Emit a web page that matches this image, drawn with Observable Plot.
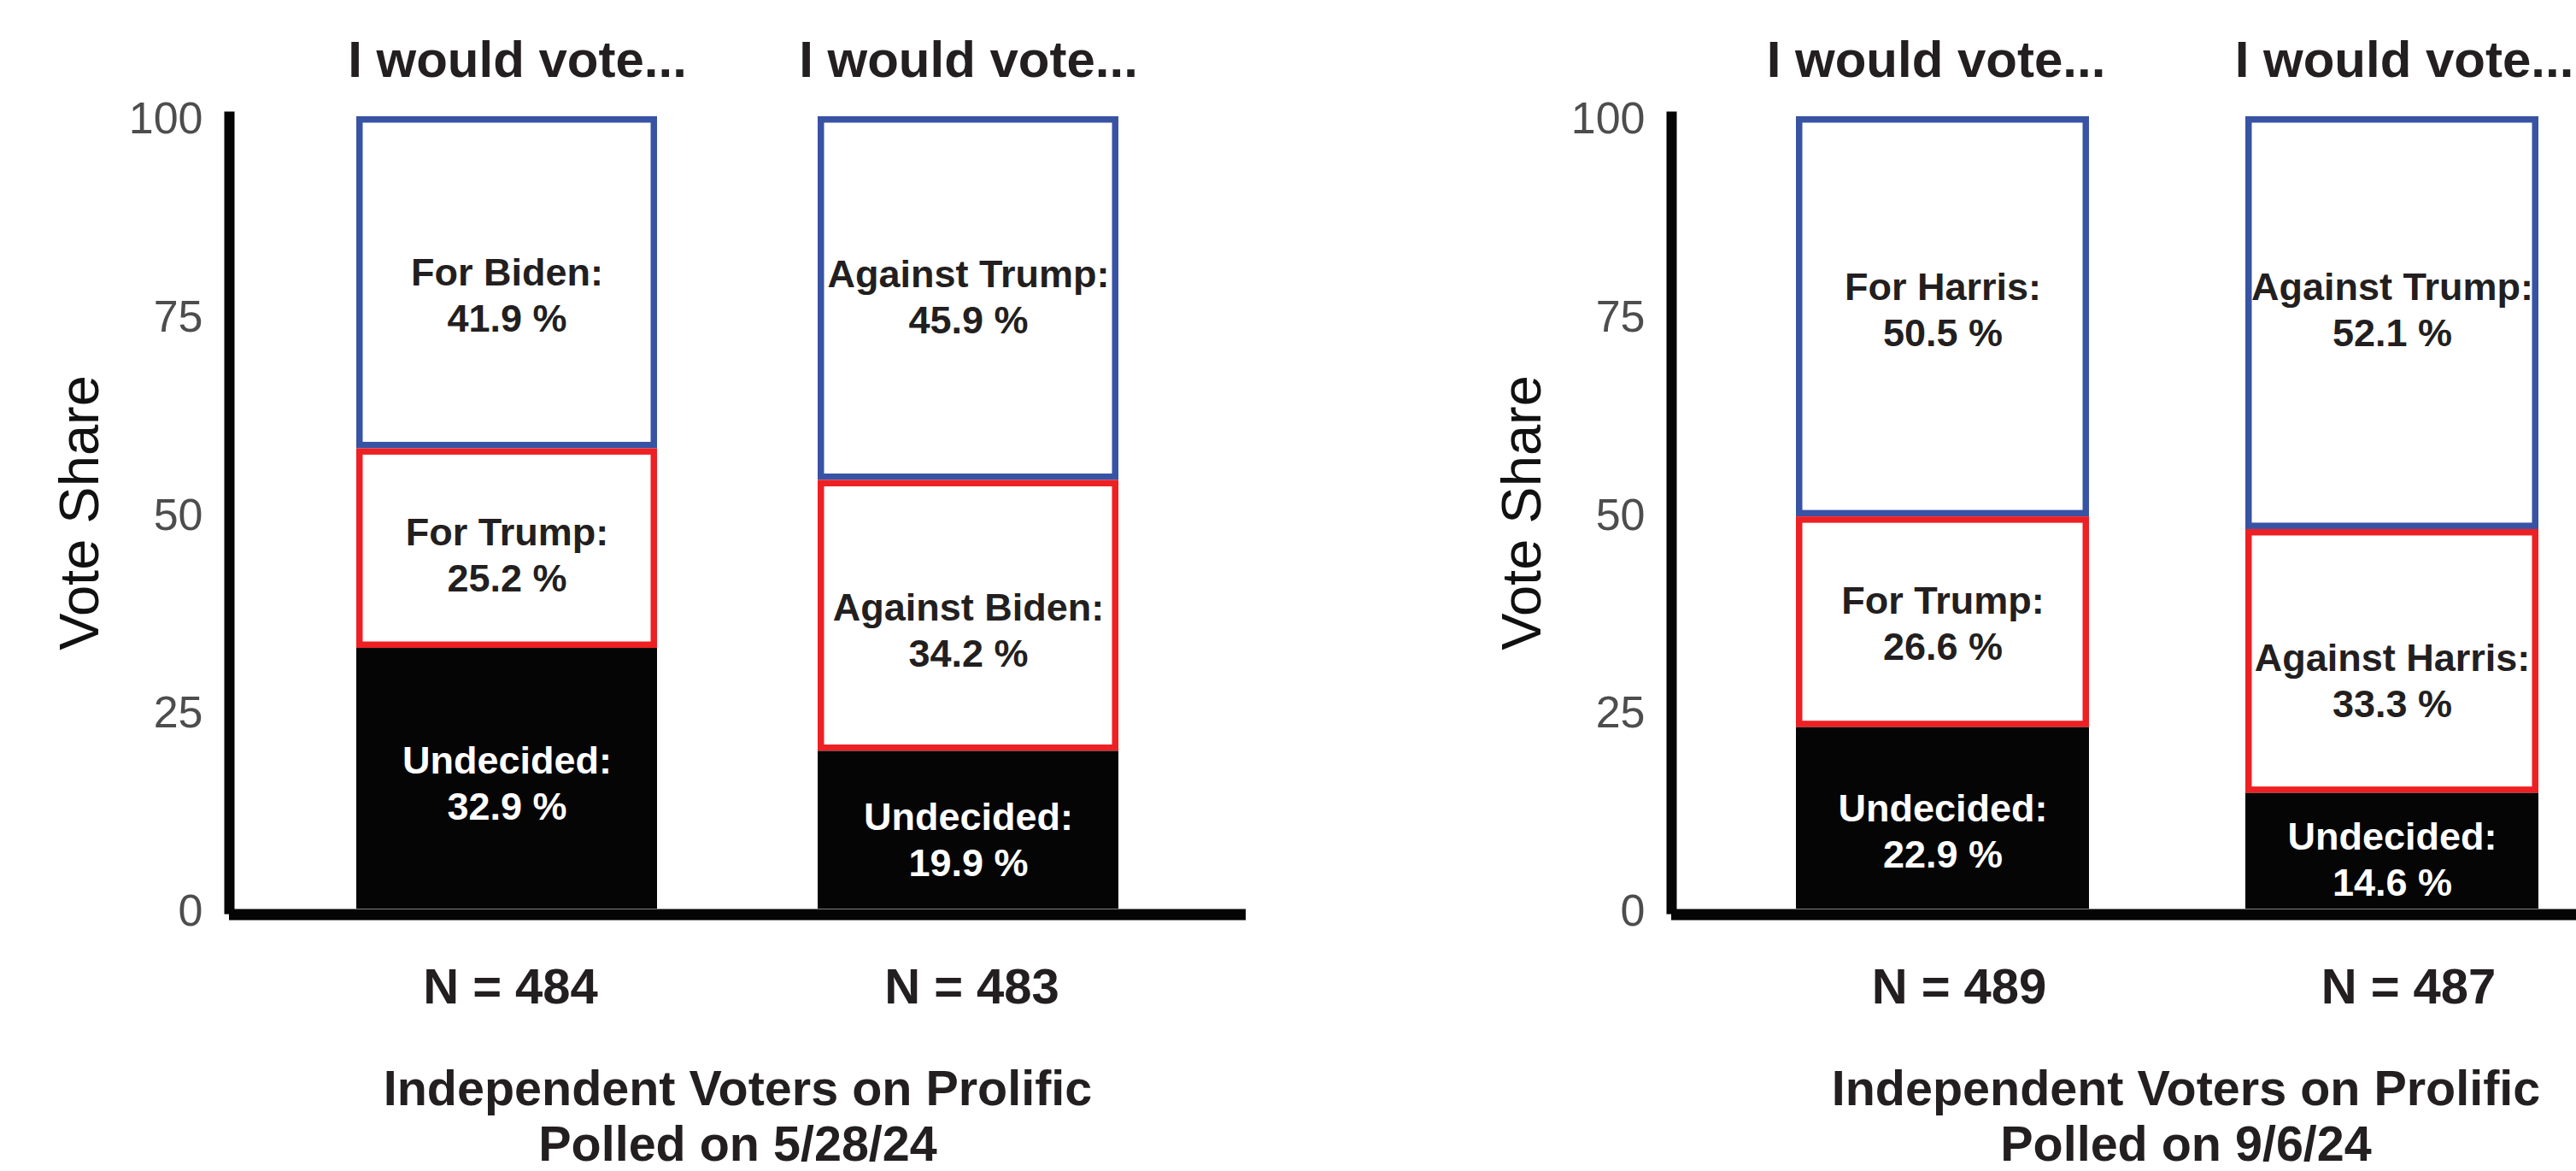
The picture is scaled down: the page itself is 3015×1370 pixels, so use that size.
<!DOCTYPE html>
<html><head><meta charset="utf-8">
<script src="https://cdn.jsdelivr.net/npm/d3@7"></script>
<script src="https://cdn.jsdelivr.net/npm/@observablehq/plot@0.6"></script>
<style>
html,body{margin:0;padding:0;background:#fff;}
#chart{position:relative;width:3015px;height:1370px;overflow:hidden;background:#fff;}
#chart svg{position:absolute;top:0;max-width:none !important;}
</style></head><body><div id="chart"></div>
<script>
// ---- data ----
const pollDates = ["5/28/24", "9/6/24"];
const barKeys = ["for", "against"];
const sampleSizes = [[484, 483], [489, 487]];
const topLabels = [["For Biden", "Against Trump"], ["For Harris", "Against Trump"]];
const topValues = [[41.9, 45.9], [50.5, 52.1]];
const midLabels = [["For Trump", "Against Biden"], ["For Trump", "Against Harris"]];
const midValues = [[25.2, 34.2], [26.6, 33.3]];
const undecidedLabel = "Undecided";
const undecidedValues = [[32.9, 19.9], [22.9, 14.6]];
const headerText = "I would vote...";
const yTicks = [0, 25, 50, 75, 100];
const yLabel = "Vote Share";
const captionText = "Independent Voters on Prolific";

// ---- layout (positions / nudges, not data) ----
const panelLeft = [0, 1500];
const panelWidth = [1500, 1616];
const panelMarginLeft = [268, 456];
const panelMarginRight = [42, 0];
const captionDx = [0, 22];
const nDx = [4, 19];
const headerDx = [[12, 0], [-8, 14]];
// [panel][bar][segment: undecided, mid, top]
const labelDy = [[[4, 6, 13], [9, 15, -4]], [[13, 0, -10], [8, 21, -17]]];

const BLUE = "#3853a4", RED = "#ed2024", BLACK = "#050505", INK = "#231f20";
const FONT = "'Liberation Sans', Arial, Helvetica, sans-serif";
const SEGS = ["undecided", "mid", "top"];

function rowsFor(p) {
  const out = [];
  barKeys.forEach((k, i) => {
    const u = undecidedValues[p][i], m = midValues[p][i], t = topValues[p][i];
    out.push({key: k, bar: i, seg: "undecided", label: undecidedLabel, value: u, y1: 0, y2: u});
    out.push({key: k, bar: i, seg: "mid", label: midLabels[p][i], value: m, y1: u, y2: u + m});
    out.push({key: k, bar: i, seg: "top", label: topLabels[p][i], value: t, y1: u + m, y2: Math.min(100, u + m + t)});
  });
  return out;
}

const chart = document.getElementById("chart");
pollDates.forEach((date, p) => {
  const rows = rowsFor(p);
  const heads = barKeys.map((k, i) => ({key: k, bar: i, n: sampleSizes[p][i]}));
  const fmt = d => `${d.label}:\n${d.value.toFixed(1)} %`;
  const labelMarks = rows.map(d => Plot.text([d], {
    x: "key", y: r => (r.y1 + r.y2) / 2, text: fmt,
    dy: labelDy[p][d.bar][SEGS.indexOf(d.seg)],
    fill: d.seg === "undecided" ? "white" : INK,
    fontSize: 45, fontWeight: "bold", lineAnchor: "middle", lineHeight: 1.2
  }));
  const headerMarks = heads.map(h => Plot.text([h], {
    x: "key", text: () => headerText, frameAnchor: "top", lineAnchor: "bottom", dy: -47, dx: headerDx[p][h.bar],
    fill: INK, fontSize: 60, fontWeight: "bold"
  }));
  const svg = Plot.plot({
    width: panelWidth[p], height: 1370,
    marginLeft: panelMarginLeft[p], marginRight: panelMarginRight[p],
    marginTop: 136, marginBottom: 307,
    style: {fontFamily: FONT, background: "white"},
    x: {type: "band", domain: barKeys, paddingInner: 0.348, paddingOuter: 0.275, axis: null},
    y: {domain: [0, 100]},
    marks: [
      Plot.barY(rows.filter(d => d.seg === "top"), {x: "key", y1: "y1", y2: "y2", fill: "white", stroke: BLUE, strokeWidth: 7.5, inset: 3.75}),
      Plot.barY(rows.filter(d => d.seg === "mid"), {x: "key", y1: "y1", y2: "y2", fill: "white", stroke: RED, strokeWidth: 7.5, inset: 3.75}),
      Plot.barY(rows.filter(d => d.seg === "undecided"), {x: "key", y1: "y1", y2: "y2", fill: BLACK}),
      Plot.frame({anchor: "left", stroke: BLACK, strokeWidth: 12}),
      Plot.ruleY([0], {stroke: BLACK, strokeWidth: 13, dy: 6.5}),
      Plot.axisY({ticks: yTicks, tickSize: 0, tickPadding: 31, fontSize: 52, color: "#4d4d4d", label: null, dy: 3}),
      ...labelMarks,
      ...headerMarks,
      Plot.text(heads, {x: "key", text: d => `N = ${d.n}`, frameAnchor: "bottom", lineAnchor: "bottom", dy: 110, dx: nDx[p],
        fill: INK, fontSize: 58, fontWeight: "bold"}),
      Plot.text([`${captionText}\nPolled on ${date}`], {frameAnchor: "bottom", lineAnchor: "bottom", textAnchor: "middle",
        dy: 294, dx: captionDx[p], lineHeight: 1.13, fill: INK, fontSize: 57.5, fontWeight: "bold"}),
      Plot.text([yLabel], {frameAnchor: "left", rotate: -90, textAnchor: "middle", lineAnchor: "bottom",
        dx: -154, fill: "#111", fontSize: 65})
    ]
  });
  svg.style.left = panelLeft[p] + "px";
  svg.style.maxWidth = "none";
  chart.appendChild(svg);
});
</script></body></html>
